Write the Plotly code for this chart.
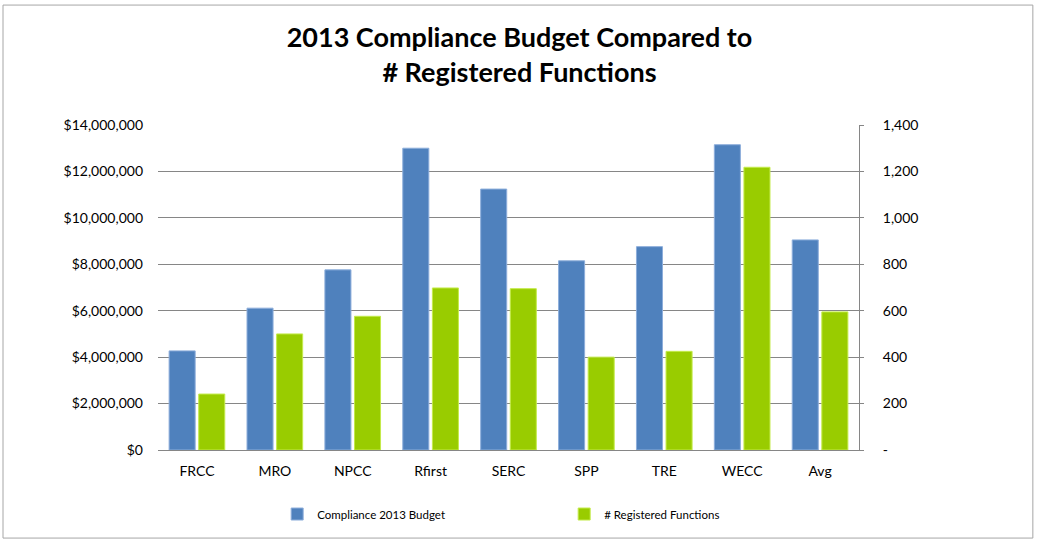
import plotly.graph_objects as go

regions = ["FRCC", "MRO", "NPCC", "Rfirst", "SERC", "SPP", "TRE", "WECC", "Avg"]
budget = [4270000, 6110000, 7760000, 13000000, 11240000, 8150000, 8760000, 13150000, 9050000]
functions = [241, 500, 576, 698, 695, 400, 425, 1218, 595]

budget_ticks = [0, 2000000, 4000000, 6000000, 8000000, 10000000, 12000000, 14000000]
func_ticks = [0, 200, 400, 600, 800, 1000, 1200, 1400]
func_ticktext = ["-", "200", "400", "600", "800", "1,000", "1,200", "1,400"]

FONT = "Lato, Open Sans, sans-serif"

fig = go.Figure()
fig.add_trace(go.Bar(
    x=regions, y=budget, name="Compliance 2013 Budget",
    marker=dict(color="#4F81BD", line=dict(color="#8DAEDB", width=1)),
    offsetgroup="1", yaxis="y"
))
fig.add_trace(go.Bar(
    x=regions, y=functions, name="# Registered Functions",
    marker=dict(color="#99CC00", line=dict(color="#C4EB4A", width=1)),
    offsetgroup="2", yaxis="y2"
))

fig.update_layout(
    width=1039, height=540,
    margin=dict(l=158, r=180, t=125, b=90),
    paper_bgcolor="white", plot_bgcolor="white",
    font=dict(family=FONT, size=14, color="#000000"),
    title=dict(
        text="<b>2013 Compliance Budget Compared to<br># Registered Functions</b>",
        x=0.5, xanchor="center", y=0.913, yanchor="top",
        font=dict(family=FONT, size=27, color="#000000")
    ),
    barmode="group", bargap=0.24, bargroupgap=0.12,
    xaxis=dict(
        showline=True, linecolor="#868686", linewidth=1,
        ticks="", tickfont=dict(size=14), ticklabelstandoff=8
    ),
    yaxis=dict(
        range=[0, 14000000], tickvals=budget_ticks, tickformat="$,.0f",
        showgrid=True, gridcolor="#868686", gridwidth=1,
        zeroline=False, showline=False, ticks="",
        ticklabelstandoff=14
    ),
    yaxis2=dict(
        range=[0, 1400], overlaying="y", side="right",
        tickvals=func_ticks, ticktext=func_ticktext,
        showgrid=False, zeroline=False,
        showline=True, linecolor="#868686", linewidth=1,
        ticks="outside", ticklen=4, tickcolor="#868686",
        ticklabelstandoff=16
    ),
    legend=dict(
        orientation="h", x=0.17, xanchor="left", y=-0.197, yanchor="middle",
        font=dict(size=11.5), entrywidth=242, itemwidth=30
    ),
    shapes=[dict(
        type="rect", xref="paper", yref="paper",
        x0=-0.2211, x1=1.248, y0=-0.271, y1=1.369,
        line=dict(color="#A6A6A6", width=1)
    )]
)

# drop the browser's default body margin so the figure sits at the page corner
fig.write_html("out.html", config={"displayModeBar": False},
               post_script="document.body.style.margin='0';")
